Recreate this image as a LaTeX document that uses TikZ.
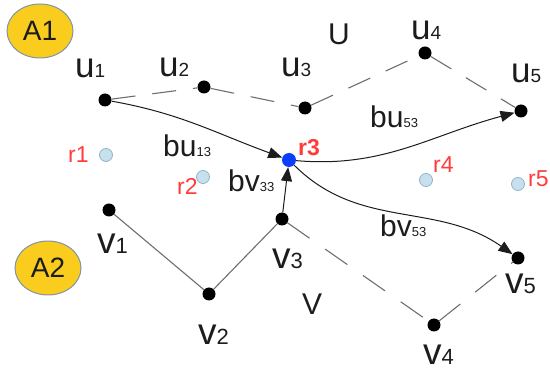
\documentclass[tikz,border=0pt]{standalone}
\usepackage{fontspec}
\setmainfont{Liberation Sans}
\usetikzlibrary{arrows.meta,shapes.geometric}

\definecolor{inkgray}{HTML}{1C1C1C}
\definecolor{edgegray}{HTML}{6E6E6E}
\definecolor{gold}{HTML}{F9CC1E}
\definecolor{goldrim}{HTML}{7F95A8}
\definecolor{rfill}{HTML}{C8E0EE}
\definecolor{rrim}{HTML}{8FB3CA}
\definecolor{rblue}{HTML}{0B3DFF}
\definecolor{rred}{HTML}{FF3B3B}

% letter followed by a smaller index, both on the same baseline
\newcommand\idxlbl[4]{{\fontsize{#1}{#1}\selectfont #2}{\fontsize{#3}{#3}\selectfont #4}}

\tikzset{
  dot/.style={circle, fill=black, minimum size=13pt, inner sep=0pt},
  region/.style={circle, fill=rfill, draw=rrim, line width=0.8pt, minimum size=13pt, inner sep=0pt},
  hub/.style={circle, fill=rblue, minimum size=14pt, inner sep=0pt},
  areabox/.style={ellipse, fill=gold, draw=goldrim, line width=1pt, minimum width=66pt, minimum height=54pt, inner sep=0pt, font=\fontsize{28}{28}\selectfont, text=inkgray},
  txt/.style={inner sep=0pt, anchor=base west, text=inkgray},
  rtxt/.style={inner sep=0pt, anchor=base west, text=rred, font=\fontsize{23}{23}\selectfont},
  solidedge/.style={draw=edgegray, line width=1.1pt},
  dashedge/.style={draw=edgegray, line width=1.1pt, dash pattern=on 24pt off 17pt},
  arr/.style={draw=inkgray, line width=1pt, -{Triangle[length=14pt,width=11pt]}},
}

\begin{document}
\begin{tikzpicture}[x=1pt,y=-1pt]
\useasboundingbox (0,0) rectangle (550,374);

% the two areas
\node[areabox] (A1) at (40,31) {A1};
\node[areabox] (A2) at (48,268) {A2};

% route U
\node[dot] (u1) at (105,100) {};
\node[dot] (u2) at (204,87) {};
\node[dot] (u3) at (305,108) {};
\node[dot] (u4) at (425,53) {};
\node[dot] (u5) at (521,111) {};

% route V
\node[dot] (v1) at (109,210) {};
\node[dot] (v2) at (209,294) {};
\node[dot] (v3) at (282,219) {};
\node[dot] (v4) at (434,325) {};
\node[dot] (v5) at (518,258) {};

% regions
\node[region] (r1) at (106,155) {};
\node[region] (r2) at (203,177) {};
\node[hub] (r3) at (289,160) {};
\node[region] (r4) at (426,180) {};
\node[region] (r5) at (518,184) {};

% route segments
\draw[dashedge] (u1) -- (u2) -- (u3) -- (u4) -- (u5);
\draw[solidedge] (v1) -- (v2) -- (v3);
\draw[dashedge, dash pattern=on 27pt off 19pt] (v3) -- (v4) -- (v5);

% links through r3
\draw[arr] (u1) to[out=-10,in=160] (r3);
\draw[arr] (v3) -- (r3);
\draw[arr] (r3) to[out=-5,in=195] (u5);
\draw[arr] (r3) to[out=-45,in=145] (v5);

% point labels
\node[txt] (lu1) at (75,78) {\idxlbl{35}{u}{19}{1}};
\node[txt] (lu2) at (159,77) {\idxlbl{35}{u}{19}{2}};
\node[txt] (lu3) at (281,77) {\idxlbl{35}{u}{19}{3}};
\node[txt] (lu4) at (411,40) {\idxlbl{35}{u}{19}{4}};
\node[txt] (lu5) at (511,83) {\idxlbl{35}{u}{19}{5}};
\node[txt] (lv1) at (97,254) {\idxlbl{37}{v}{22}{1}};
\node[txt] (lv2) at (198,345) {\idxlbl{37}{v}{22}{2}};
\node[txt] (lv3) at (272,269) {\idxlbl{37}{v}{22}{3}};
\node[txt] (lv4) at (423,365) {\idxlbl{37}{v}{22}{4}};
\node[txt] (lv5) at (505,294) {\idxlbl{37}{v}{22}{5}};

% route names
\node[txt, font=\fontsize{30}{30}\selectfont] (lU) at (328,45) {U};
\node[txt, font=\fontsize{30}{30}\selectfont] (lV) at (302,315) {V};

% region labels
\node[rtxt] (lr1) at (68,163) {r1};
\node[rtxt] (lr2) at (177,195) {r2};
\node[rtxt, font=\fontsize{23}{23}\bfseries] (lr3) at (298,156) {r3};
\node[rtxt] (lr4) at (433,173) {r4};
\node[rtxt] (lr5) at (528,187) {r5};

% link labels
\node[txt] (lb1) at (163,157) {\idxlbl{30}{bu}{13}{13}};
\node[txt] (lb2) at (228,192) {\idxlbl{30}{bv}{13}{33}};
\node[txt] (lb3) at (370,128) {\idxlbl{30}{bu}{13}{53}};
\node[txt] (lb4) at (380,237) {\idxlbl{30}{bv}{13}{53}};
\end{tikzpicture}
\end{document}
